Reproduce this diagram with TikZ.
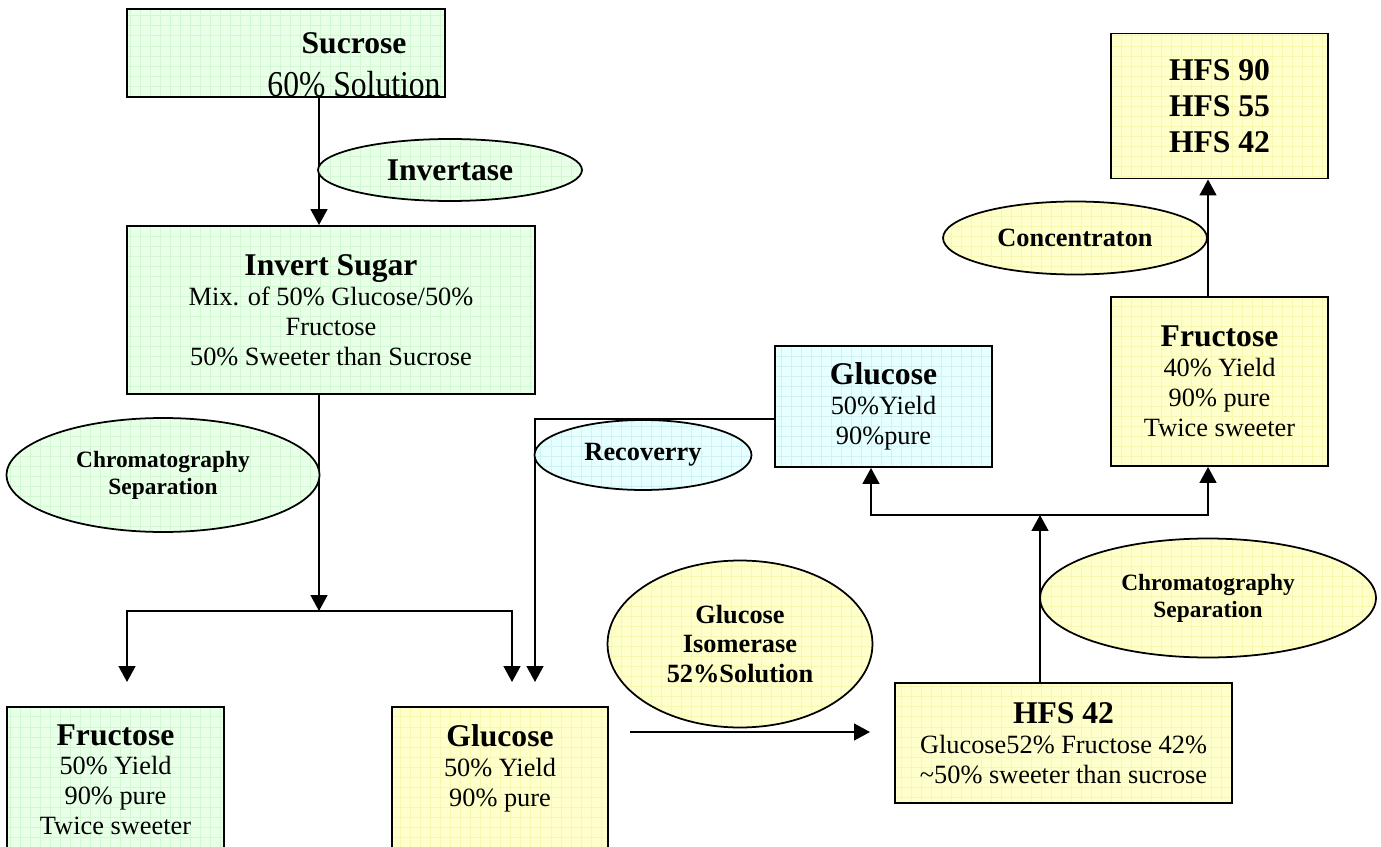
\documentclass[tikz,border=0pt]{standalone}
\usepackage{fontspec}
\usepackage{graphicx}
\setmainfont{Liberation Serif}
\usetikzlibrary{%
    arrows.meta,
    patterns.meta,
    positioning,
    shapes.geometric
}
\definecolor{grnfill}{HTML}{E8FFE8}
\definecolor{grnline}{HTML}{D2F7D2}
\definecolor{ylwfill}{HTML}{FFFFCC}
\definecolor{ylwline}{HTML}{F7F7B0}
\definecolor{cynfill}{HTML}{E6FFFF}
\definecolor{cynline}{HTML}{D0F2F7}
\newcommand{\hdfont}{\fontsize{18}{21}\selectfont\bfseries}
\newcommand{\bodyfont}{\fontsize{15}{17}\selectfont}
\tikzset{flowarrow/.style = {-{Triangle[length=9pt,width=9.5pt]}, line width=1.1pt}}
\tikzset{gridfill/.style 2 args = {preaction={fill=#1},
    pattern={Hatch[angle=0,distance=5.7pt,line width=0.35pt]}, pattern color=#2}}
\tikzset{box/.style = {draw, line width=1.1pt, inner sep=0pt, align=center, font=\bodyfont}}
\tikzset{oval/.style = {ellipse, draw, line width=1pt, inner sep=0pt, align=center,
    font=\fontsize{15}{17}\selectfont\bfseries}}
\tikzset{grnbox/.style = {box, gridfill={grnfill}{grnline}}}
\tikzset{ylwbox/.style = {box, gridfill={ylwfill}{ylwline}}}
\tikzset{cynbox/.style = {box, gridfill={cynfill}{cynline}}}
\tikzset{grnoval/.style = {oval, gridfill={grnfill}{grnline}}}
\tikzset{ylwoval/.style = {oval, gridfill={ylwfill}{ylwline}}}
\tikzset{cynoval/.style = {oval, gridfill={cynfill}{cynline}}}
\tikzset{txt/.style = {inner sep=0pt, align=center, font=\bodyfont}}

\begin{document}
\begin{tikzpicture}[x=0.02cm, y=-0.02cm]
    \clip (0,0) rectangle (1381,847);

    % sucrose to invert sugar
    \node[grnbox, minimum width=6.36cm, minimum height=1.76cm] (sucrose) at (286,53) {};
    \begin{scope}
        \clip (sucrose.south west) rectangle (sucrose.north east);
        \node[txt, font=\hdfont] (sucrosetxt) at (354,43) {Sucrose};
        \node[txt, font=\fontsize{18}{21}\selectfont, below=0.34cm of sucrosetxt] (solntxt)
            {\scalebox{1}[1.15]{60\% Solution}};
    \end{scope}
    \node[grnbox, minimum width=8.16cm, minimum height=3.36cm] (invert) at (331,310)
        {{\hdfont Invert Sugar}\\Mix. of 50\% Glucose/50\%\\Fructose\\50\% Sweeter than Sucrose};

    \coordinate (split) at (319,611);
    \coordinate (frufoot) at (127,682);
    \coordinate (glufoot) at (512,682);
    \coordinate (recfoot) at (535,682);

    \draw[flowarrow] (sucrose.south -| split) -- (invert.north -| split);
    \node[grnoval, minimum width=5.28cm, minimum height=1.24cm] (invertase) at (450,170)
        {\fontsize{18}{21}\selectfont Invertase};

    \draw[flowarrow] (invert.south -| split) -- (split);
    \draw[flowarrow] (split) -| (frufoot);
    \draw[flowarrow] (split) -| (glufoot);
    \node[grnoval, minimum width=6.26cm, minimum height=2.28cm,
        font=\fontsize{13.3}{15.5}\selectfont\bfseries] (chromleft) at (163,475)
        {Chromatography\\Separation};

    % bottom row
    \node[grnbox, minimum width=4.34cm, minimum height=4cm, anchor=north] (fruleft) at (115.5,706) {};
    \node[txt, below=0.36cm of fruleft.north] (frulefttxt)
        {{\hdfont Fructose}\\50\% Yield\\90\% pure\\Twice sweeter};
    \node[ylwbox, minimum width=4.32cm, minimum height=4cm, anchor=north] (glubot) at (500,706) {};
    \node[txt, below=0.36cm of glubot.north] (glubottxt)
        {{\hdfont Glucose}\\50\% Yield\\90\% pure};

    \node[ylwoval, minimum width=5.3cm, minimum height=3.34cm] (isomerase) at (740,644)
        {Glucose\\Isomerase\\52\%Solution};
    \coordinate (isostart) at (630,732);
    \coordinate (isoend) at (870,732);
    \draw[flowarrow] (isostart) -- (isoend);

    \node[ylwbox, minimum width=6.74cm, minimum height=2.4cm] (hfsmix) at (1063.5,743)
        {{\hdfont HFS 42}\\Glucose52\% Fructose 42\%\\\textasciitilde50\% sweeter than sucrose};

    % second separation
    \node[cynbox, minimum width=4.34cm, minimum height=2.42cm] (glucyan) at (883.5,406.5)
        {{\hdfont Glucose}\\50\%Yield\\90\%pure};
    \node[ylwbox, minimum width=4.34cm, minimum height=3.38cm] (frurgt) at (1219.5,381.5)
        {{\hdfont Fructose}\\40\% Yield\\90\% pure\\Twice sweeter};
    \node[ylwbox, minimum width=4.34cm, minimum height=2.9cm,
        font=\fontsize{18}{20.5}\selectfont\bfseries] (hfsall) at (1219.5,106)
        {HFS 90\\HFS 55\\HFS 42};

    \coordinate (sep2) at (1040,515);
    \draw[flowarrow] (hfsmix.north -| sep2) -- (sep2);
    \draw[flowarrow] (sep2) -| ([xshift=-0.25cm]glucyan.south);
    \draw[flowarrow] (sep2) -| ([xshift=-0.23cm]frurgt.south);
    \draw[flowarrow] ([xshift=-0.23cm]frurgt.north) -- ([xshift=-0.23cm]hfsall.south);
    \draw[flowarrow] ([yshift=-0.25cm]glucyan.west) -| (recfoot);

    \node[ylwoval, minimum width=6.72cm, minimum height=2.38cm,
        font=\fontsize{13.3}{15.5}\selectfont\bfseries] (chromright) at (1208,598)
        {Chromatography\\Separation};
    \node[cynoval, minimum width=4.34cm, minimum height=1.4cm] (recovery) at (643,455) {Recoverry};
    \node[ylwoval, minimum width=5.28cm, minimum height=1.46cm] (concentr) at (1075,238) {Concentraton};
\end{tikzpicture}
\end{document}
